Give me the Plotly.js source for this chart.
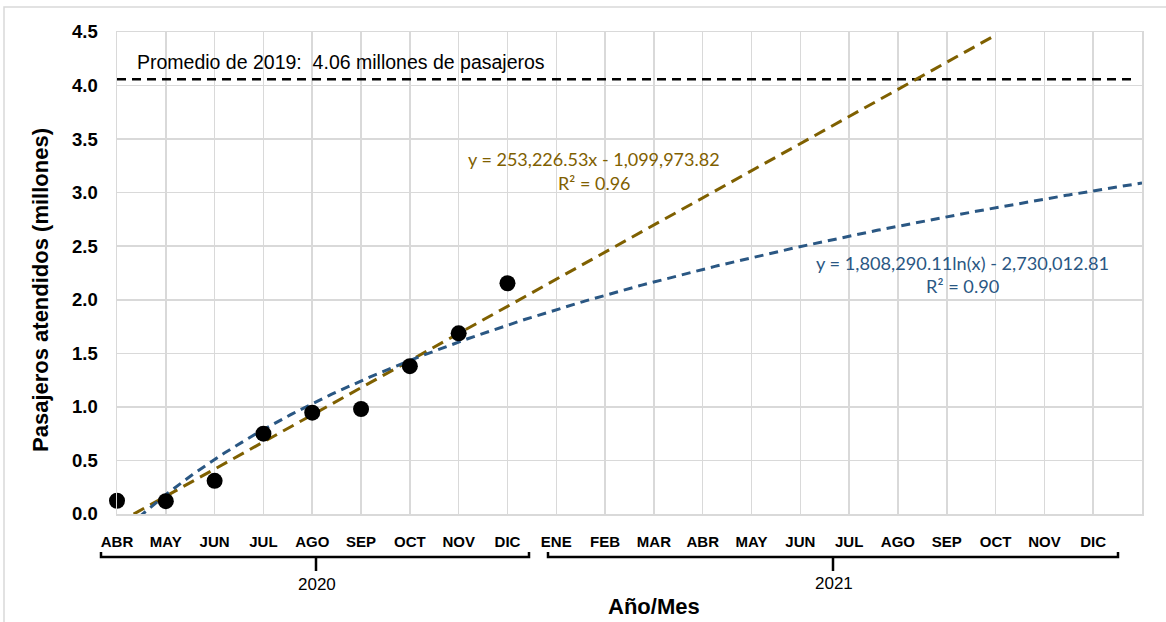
<!DOCTYPE html>
<html>
<head>
<meta charset="utf-8">
<script src="https://cdn.plot.ly/plotly-3.0.1.min.js"></script>
<style>html,body{margin:0;padding:0;background:#fff;}#chart{width:1166px;height:622px;}</style>
</head>
<body>
<div id="chart"></div>
<script>
// ---- data ----
const monthLabels = ['ABR','MAY','JUN','JUL','AGO','SEP','OCT','NOV','DIC','ENE','FEB','MAR','ABR','MAY','JUN','JUL','AGO','SEP','OCT','NOV','DIC'];
const yearLabels = ['2020', '2021'];
const passengers2020 = [0.124, 0.12, 0.31, 0.75, 0.946, 0.98, 1.38, 1.687, 2.154]; // millions, ABR-DIC 2020
const average2019 = 4.06;
const averageLabel = 'Promedio de 2019:  4.06 millones de pasajeros';
const linearCoef = [253226.53, -1099973.82];   // y = a x + b
const logCoef = [1808290.11, -2730012.81];     // y = a ln(x) + b
const linearEq = ['y = 253,226.53x - 1,099,973.82', 'R² = 0.96'];
const logEq = ['y = 1,808,290.11ln(x) - 2,730,012.81', 'R² = 0.90'];
const firstMonthIndex = 4; // April = 4 (Excel x value)

// ---- derived ----
const tickX = monthLabels.map((_, i) => firstMonthIndex + i);
const dataX = passengers2020.map((_, i) => firstMonthIndex + i);
const linX = [firstMonthIndex, firstMonthIndex + 18];
const linY = linX.map(x => (linearCoef[0] * x + linearCoef[1]) / 1e6);
const logX = [];
for (let x = firstMonthIndex; x <= firstMonthIndex + 21.0001; x += 0.05) logX.push(x);
const logY = logX.map(x => (logCoef[0] * Math.log(x) + logCoef[1]) / 1e6);

// ---- layout helpers (pixel -> paper) ----
const W = 1166, H = 622, L = 117, R = 1142, T = 32, B = 514;
const px = v => (v - L) / (R - L);
const py = v => (B - v) / (B - T);

const gold = '#7F6000', blue = '#2A5783';
const font = 'Liberation Sans, Arial, sans-serif';

const traces = [
  {x: [firstMonthIndex, firstMonthIndex + 20.8], y: [average2019, average2019], mode: 'lines',
   line: {color: '#000', width: 2.5, dash: '9px,6px'}, hoverinfo: 'skip'},
  {x: linX, y: linY, mode: 'lines', line: {color: gold, width: 3, dash: '12px,7px'}, hoverinfo: 'skip'},
  {x: logX, y: logY, mode: 'lines', line: {color: blue, width: 3, dash: '9px,6px'}, hoverinfo: 'skip'},
  {x: dataX, y: passengers2020, mode: 'markers', marker: {color: '#000', size: 16}, cliponaxis: false}
];

const bracket = (x0, x1, xc) => ({
  type: 'path', xref: 'paper', yref: 'paper',
  path: `M ${px(x0)} ${py(552)} L ${px(x0)} ${py(557)} L ${px(x1)} ${py(557)} L ${px(x1)} ${py(552)} M ${px(xc)} ${py(557)} L ${px(xc)} ${py(571)}`,
  line: {color: '#000', width: 2.5}
});

const ann = (x, y, text, f, extra) => Object.assign({
  xref: 'paper', yref: 'paper', x: px(x), y: py(y), text: text, showarrow: false,
  xanchor: 'center', yanchor: 'middle', font: f
}, extra || {});

const layout = {
  width: W, height: H,
  margin: {l: L, r: W - R, t: T, b: H - B},
  paper_bgcolor: '#fff', plot_bgcolor: '#fff',
  showlegend: false,
  xaxis: {
    range: [firstMonthIndex, firstMonthIndex + 21], tickvals: tickX, ticktext: monthLabels,
    showgrid: true, gridcolor: '#d9d9d9', gridwidth: 1.5, zeroline: false,
    showline: true, linecolor: '#d9d9d9', linewidth: 1.5, mirror: true,
    ticks: 'outside', ticklen: 13, tickcolor: 'rgba(0,0,0,0)',
    tickfont: {family: font, size: 15, color: '#000', weight: 'bold'}, tickangle: 0
  },
  yaxis: {
    range: [0, 4.5], dtick: 0.5, tickformat: '.1f',
    showgrid: true, gridcolor: '#d9d9d9', gridwidth: 1.5, zeroline: false,
    showline: true, linecolor: '#d9d9d9', linewidth: 1.5, mirror: true,
    ticks: 'outside', ticklen: 14, tickcolor: 'rgba(0,0,0,0)',
    tickfont: {family: font, size: 18.5, color: '#000', weight: 'bold'}
  },
  shapes: [
    {type: 'rect', xref: 'paper', yref: 'paper', x0: px(4), x1: px(1180), y0: py(640), y1: py(7),
     line: {color: '#d9d9d9', width: 1.5}, layer: 'below'},
    bracket(101, 529, 316),
    bracket(548, 1118, 833)
  ],
  annotations: [
    ann(40, 290, 'Pasajeros atendidos (millones)', {family: font, size: 22, color: '#000', weight: 'bold'}, {textangle: -90}),
    ann(654, 606, 'Año/Mes', {family: font, size: 22, color: '#000', weight: 'bold'}),
    ann(317, 584, yearLabels[0], {family: font, size: 17, color: '#000'}),
    ann(834, 583, yearLabels[1], {family: font, size: 17, color: '#000'}),
    ann(135, 62, averageLabel, {family: font, size: 19.5, color: '#000'}, {xanchor: 'left'}),
    ann(594, 159, linearEq[0], {family: 'Lato, sans-serif', size: 18, color: gold}),
    ann(594, 183, linearEq[1], {family: 'Lato, sans-serif', size: 18, color: gold}),
    ann(962, 263, logEq[0], {family: 'Lato, sans-serif', size: 18.2, color: blue}),
    ann(962, 286, logEq[1], {family: 'Lato, sans-serif', size: 18.2, color: blue})
  ]
};

Plotly.newPlot('chart', traces, layout, {displayModeBar: false, staticPlot: true});
</script>
</body>
</html>
